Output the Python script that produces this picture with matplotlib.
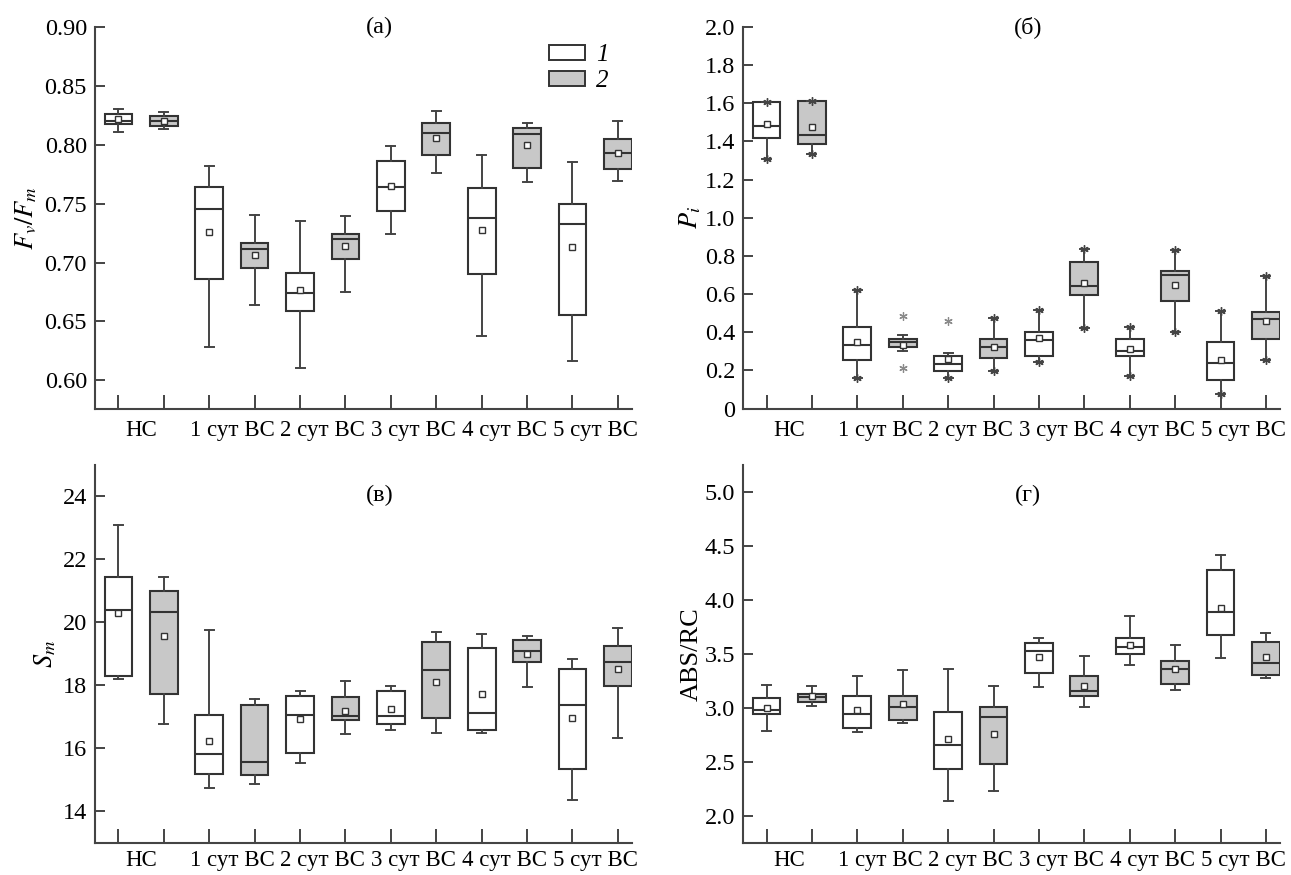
import numpy as np
import matplotlib
matplotlib.use("Agg")
import matplotlib.pyplot as plt
from matplotlib.patches import Patch
from matplotlib.ticker import FuncFormatter

plt.rcParams["font.family"] = ["Liberation Serif", "DejaVu Serif"]
plt.rcParams["mathtext.fontset"] = "stix"

groups = ["НС", "1 сут ВС", "2 сут ВС", "3 сут ВС", "4 сут ВС", "5 сут ВС"]
# 12 boxes: (white, gray) for each group in order

# (а) Fv/Fm
fv_lo = [0.8106, 0.8137, 0.6285, 0.6639, 0.6107, 0.6749, 0.7244, 0.7758, 0.6376, 0.7680, 0.6166, 0.7691]
fv_q1 = [0.8177, 0.8157, 0.6856, 0.6950, 0.6585, 0.7029, 0.7439, 0.7917, 0.6899, 0.7807, 0.6557, 0.7792]
fv_med = [0.8205, 0.8200, 0.7456, 0.7111, 0.6743, 0.7199, 0.7640, 0.8098, 0.7380, 0.8090, 0.7329, 0.7931]
fv_q3 = [0.8260, 0.8245, 0.7643, 0.7162, 0.6907, 0.7241, 0.7866, 0.8186, 0.7637, 0.8140, 0.7496, 0.8050]
fv_hi = [0.8300, 0.8276, 0.7818, 0.7405, 0.7354, 0.7394, 0.7988, 0.8290, 0.7917, 0.8188, 0.7852, 0.8205]
fv_mean = [0.8220, 0.8203, 0.7260, 0.7066, 0.6769, 0.7142, 0.7651, 0.8055, 0.7280, 0.8002, 0.7128, 0.7931]

# (б) Pi
pi_lo = [1.310, 1.334, 0.162, 0.300, 0.159, 0.199, 0.243, 0.423, 0.169, 0.400, 0.075, 0.253]
pi_q1 = [1.420, 1.385, 0.255, 0.321, 0.199, 0.264, 0.278, 0.596, 0.276, 0.564, 0.148, 0.365]
pi_med = [1.479, 1.434, 0.335, 0.348, 0.236, 0.320, 0.360, 0.645, 0.302, 0.700, 0.241, 0.472]
pi_q3 = [1.607, 1.610, 0.426, 0.362, 0.278, 0.367, 0.400, 0.767, 0.363, 0.721, 0.349, 0.505]
pi_hi = [1.609, 1.612, 0.624, 0.383, 0.292, 0.475, 0.515, 0.837, 0.428, 0.830, 0.510, 0.697]
pi_mean = [1.492, 1.474, 0.351, 0.335, 0.262, 0.325, 0.372, 0.657, 0.313, 0.648, 0.252, 0.461]
pi_fliers = [[], [], [], [0.487, 0.215], [0.461], [], [], [], [], [], [], []]

# (в) Sm  (mean of 1 сут ВС gray box not shown in the source)
sm_lo = [18.22, 16.79, 14.74, 14.87, 15.55, 16.45, 16.59, 16.49, 16.49, 17.94, 14.38, 16.34]
sm_q1 = [18.30, 17.73, 15.18, 15.15, 15.85, 16.90, 16.79, 16.98, 16.59, 18.75, 15.35, 17.99]
sm_med = [20.41, 20.32, 15.81, 15.58, 17.07, 17.03, 17.02, 18.49, 17.14, 19.10, 17.38, 18.75]
sm_q3 = [21.44, 21.00, 17.05, 17.38, 17.68, 17.63, 17.83, 19.39, 19.18, 19.43, 18.51, 19.25]
sm_hi = [23.09, 21.44, 19.77, 17.57, 17.83, 18.13, 17.97, 19.69, 19.64, 19.56, 18.83, 19.82]
sm_mean = [20.30, 19.58, 16.25, np.nan, 16.95, 17.20, 17.26, 18.12, 17.74, 19.00, 16.98, 18.51]

# (г) ABS/RC
ab_lo = [2.788, 3.018, 2.782, 2.862, 2.141, 2.233, 3.196, 3.012, 3.402, 3.169, 3.460, 3.276]
ab_q1 = [2.942, 3.055, 2.813, 2.890, 2.439, 2.479, 3.328, 3.107, 3.500, 3.218, 3.678, 3.304]
ab_med = [2.985, 3.101, 2.942, 3.012, 2.656, 2.917, 3.525, 3.160, 3.567, 3.359, 3.886, 3.414]
ab_q3 = [3.095, 3.126, 3.107, 3.107, 2.966, 3.006, 3.604, 3.298, 3.647, 3.439, 4.282, 3.610]
ab_hi = [3.215, 3.206, 3.300, 3.347, 3.362, 3.206, 3.644, 3.485, 3.850, 3.586, 4.414, 3.693]
ab_mean = [3.003, 3.110, 2.985, 3.037, 2.715, 2.758, 3.475, 3.206, 3.586, 3.365, 3.926, 3.475]

EDGE = "#333333"
GRAY = "#c8c8c8"
AXC = "#444444"


def make_stats(lo, q1, med, q3, hi, mean, fliers=None):
    out = []
    for i in range(len(med)):
        out.append(dict(whislo=lo[i], q1=q1[i], med=med[i], q3=q3[i],
                        whishi=hi[i], mean=mean[i],
                        fliers=[] if fliers is None else fliers[i]))
    return out


def draw_panel(ax, stats, ylim, yticks, yfmt, ylabel, label_x, tag, tag_y,
               stars=False, xpad=8):
    pos = np.arange(1, len(stats) + 1)
    bp = ax.bxp(stats, positions=pos, widths=0.61, patch_artist=True,
                showmeans=True, showfliers=True, capwidths=0.2,
                boxprops=dict(edgecolor=EDGE, linewidth=1.5),
                medianprops=dict(color=EDGE, linewidth=1.5),
                whiskerprops=dict(color=AXC, linewidth=1.4),
                capprops=dict(color=AXC, linewidth=1.4),
                meanprops=dict(marker="s", markersize=4.5, markerfacecolor="white",
                               markeredgecolor=EDGE, markeredgewidth=1.0),
                flierprops=dict(marker=(6, 2, 0), markersize=6,
                                markeredgecolor="#8a8a8a", markeredgewidth=0.9,
                                linestyle="none"))
    for i, b in enumerate(bp["boxes"]):
        b.set_facecolor("white" if i % 2 == 0 else GRAY)
    if stars:
        # min/max marks at whisker ends (where no separate outlier on that side)
        for i, s in enumerate(stats):
            if not any(f > s["q3"] for f in s["fliers"]):
                ax.plot(pos[i], s["whishi"], marker=(6, 2, 0), ms=6, mec=AXC,
                        mew=1.0, ls="none", zorder=4)
            if not any(f < s["q1"] for f in s["fliers"]):
                ax.plot(pos[i], s["whislo"], marker=(6, 2, 0), ms=6, mec=AXC,
                        mew=1.0, ls="none", zorder=4)

    ax.set_xlim(0.49, 12.31)
    ax.set_ylim(*ylim)
    ax.set_yticks(yticks)
    ax.yaxis.set_major_formatter(FuncFormatter(yfmt))
    ax.set_xticks(pos)
    ax.set_xticklabels([""] * len(pos))
    ax.set_xticks(np.arange(1.5, 12.5, 2), minor=True)
    ax.set_xticklabels(groups, minor=True)
    for side in ("top", "right"):
        ax.spines[side].set_visible(False)
    for side in ("left", "bottom"):
        ax.spines[side].set_color(AXC)
        ax.spines[side].set_linewidth(1.5)
    ax.tick_params(axis="y", direction="in", length=7, width=1.4, color=AXC,
                   labelsize=17.5, pad=6)
    ax.tick_params(axis="x", which="major", direction="in", length=10,
                   width=1.4, color=AXC)
    ax.tick_params(axis="x", which="minor", length=0, labelsize=16.5, pad=xpad)
    ax.set_ylabel(ylabel, fontsize=19)
    ax.yaxis.set_label_coords(label_x, 0.5)
    ax.text(0.53, tag_y, tag, transform=ax.transAxes, ha="center", va="center",
            fontsize=17.5)


fig = plt.figure(figsize=(12.91, 8.75), dpi=100)
ax_a = fig.add_axes([0.0738, 0.5331, 0.4157, 0.4360])
ax_b = fig.add_axes([0.5758, 0.5331, 0.4157, 0.4360])
ax_c = fig.add_axes([0.0738, 0.0366, 0.4157, 0.4320])
ax_d = fig.add_axes([0.5758, 0.0366, 0.4157, 0.4320])

draw_panel(ax_a, make_stats(fv_lo, fv_q1, fv_med, fv_q3, fv_hi, fv_mean),
           (0.576, 0.90), np.arange(0.60, 0.901, 0.05),
           lambda v, p: f"{v:.2f}", r"$F_v/F_m$", -0.105, "(а)", 1.0)
draw_panel(ax_b, make_stats(pi_lo, pi_q1, pi_med, pi_q3, pi_hi, pi_mean, pi_fliers),
           (0.0, 2.0), np.arange(0.0, 2.01, 0.2),
           lambda v, p: "0" if abs(v) < 1e-9 else f"{v:.1f}", r"$P_i$", -0.075,
           "(б)", 1.0, stars=True)
draw_panel(ax_c, make_stats(sm_lo, sm_q1, sm_med, sm_q3, sm_hi, sm_mean),
           (13.0, 25.0), np.arange(14, 25, 2),
           lambda v, p: f"{v:.0f}", r"$S_m$", -0.07, "(в)", 0.919, xpad=5)
draw_panel(ax_d, make_stats(ab_lo, ab_q1, ab_med, ab_q3, ab_hi, ab_mean),
           (1.75, 5.25), np.arange(2.0, 5.01, 0.5),
           lambda v, p: f"{v:.1f}", "ABS/RC", -0.075, "(г)", 0.919, xpad=5)

ax_a.legend(handles=[Patch(facecolor="white", edgecolor=EDGE, linewidth=1.4),
                     Patch(facecolor=GRAY, edgecolor=EDGE, linewidth=1.4)],
            labels=["1", "2"], frameon=False, loc="upper left",
            bbox_to_anchor=(0.845, 0.955), borderpad=0, borderaxespad=0,
            handlelength=1.45, handleheight=0.55, handletextpad=0.45,
            labelspacing=0.15, prop=dict(style="italic", size=18))

fig.savefig("out.png", dpi=100)
